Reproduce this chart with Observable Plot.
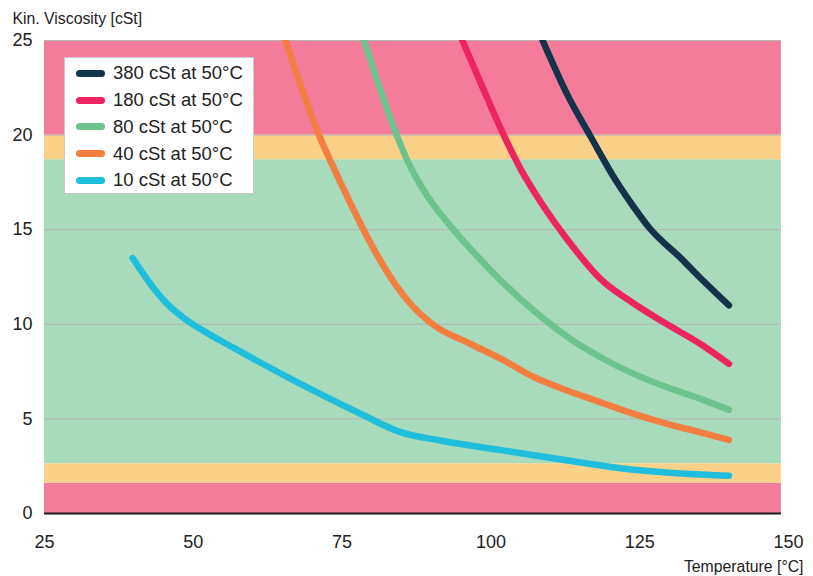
<!DOCTYPE html>
<html>
<head>
<meta charset="utf-8">
<script src="https://cdn.jsdelivr.net/npm/d3@7"></script>
<script src="https://cdn.jsdelivr.net/npm/@observablehq/plot@0.6"></script>
<style>
  body { margin: 0; background: #fff; font-family: "Liberation Sans", Arial, sans-serif; }
  #wrap { position: relative; width: 813px; height: 576px; }
  #legend { position: absolute; left: 64px; top: 57px; width: 190px; height: 137px; box-sizing: border-box;
    background: #fff; border: 1px solid #c9c9c9; padding-top: 2px; }
  .row { height: 26.75px; display: flex; align-items: center; }
  .sw { width: 29px; height: 7px; border-radius: 4px; margin-left: 11px; margin-right: 8px; }
  .lb { font-size: 18.5px; color: #222; white-space: nowrap; }
</style>
</head>
<body>
<div id="wrap"><div id="legend"></div></div>
<script>
// ---- data ----
const seriesNames = ["380 cSt at 50°C", "180 cSt at 50°C", "80 cSt at 50°C", "40 cSt at 50°C", "10 cSt at 50°C"];
const seriesColors = ["#12334a", "#ee2461", "#6dc38e", "#f47d40", "#1ebedc"];

const visc380 = [[108.7,25],[112.9,22.1],[116.8,19.9],[121.0,17.6],[124.0,16.2],[126.6,15.1],[131.9,13.5],[135.2,12.45],[140,11.0]];
const visc180 = [[95.2,25],[98.5,22.6],[102.0,20.1],[105.0,18.2],[108.5,16.4],[112.8,14.5],[118.4,12.4],[124.0,11.1],[129.6,10.0],[135.2,8.96],[140,7.91]];
const visc80  = [[78.7,25],[81.2,22.6],[83.8,20.3],[86.5,18.3],[89.5,16.7],[94.0,14.9],[98.3,13.4],[101.7,12.3],[107.3,10.7],[112.8,9.35],[118.4,8.26],[124.0,7.38],[129.6,6.67],[135.2,6.06],[140,5.48]];
const visc40  = [[65.5,25],[68.3,22.4],[71.1,20.0],[73.1,18.6],[76.4,16.4],[78.6,15.0],[82.3,12.9],[85.9,11.3],[90.2,10.0],[96.6,8.96],[101.7,8.17],[107.3,7.2],[112.8,6.5],[118.4,5.88],[124.0,5.27],[129.6,4.74],[135.2,4.29],[140,3.89]];
const visc10  = [[39.8,13.5],[42.8,12.13],[45.6,11.08],[49.0,10.2],[51.2,9.75],[56.8,8.75],[68.0,6.85],[78.1,5.27],[84.8,4.3],[91.5,3.86],[101.7,3.35],[112.9,2.8],[124.0,2.31],[132.0,2.12],[140,2.0]];
const seriesData = [visc380, visc180, visc80, visc40, visc10];

// zone bands (viscosity limits)
const bandLow  = [0, 1.6, 2.63, 18.7, 20];
const bandHigh = [1.6, 2.63, 18.7, 20, 25];
const bandColors = ["#f57b9b", "#fbd189", "#a8dabc", "#fbd189", "#f57b9b"];
const bandXStart = 25, bandXEnd = 148.8;

const xTicks = [25, 50, 75, 100, 125, 150];
const yTicks = [0, 5, 10, 15, 20, 25];
const gridValues = [5, 10, 15, 20, 25];
const yLabel = "Kin. Viscosity [cSt]";
const xLabel = "Temperature [°C]";

// ---- build tables ----
const bands = bandLow.map((lo, i) => ({lo, hi: bandHigh[i], color: bandColors[i]}));
const lines = seriesData.flatMap((arr, i) => arr.map(([t, v]) => ({t, v, series: seriesNames[i], color: seriesColors[i]})));

const font = "'Liberation Sans', Arial, sans-serif";
const chart = Plot.plot({
  width: 813, height: 576,
  marginLeft: 44, marginRight: 25, marginTop: 40, marginBottom: 63,
  style: {fontFamily: font, fontSize: "18px", color: "#222", background: "#fff", overflow: "visible"},
  color: {type: "identity"},
  x: {domain: [25, 150], ticks: xTicks, tickSize: 0, tickPadding: 22, label: null},
  y: {domain: [0, 25], ticks: yTicks, tickSize: 0, tickPadding: 12, label: null},
  marks: [
    Plot.rect(bands, {x1: bandXStart, x2: bandXEnd, y1: "lo", y2: "hi", fill: "color"}),
    Plot.ruleY(gridValues, {x1: bandXStart, x2: bandXEnd, stroke: "#b3b3b3", strokeWidth: 1}),
    Plot.ruleY([0], {x1: bandXStart, x2: bandXEnd, stroke: "#1a1a1a", strokeWidth: 2}),
    Plot.line(lines, {x: "t", y: "v", z: "series", stroke: "color", strokeWidth: 6.5,
      strokeLinecap: "round", strokeLinejoin: "round", curve: "monotone-x", clip: true}),
    Plot.text([yLabel], {frameAnchor: "top-left", dx: -32, dy: -22, textAnchor: "start", lineAnchor: "middle",
      fontSize: 15.8, fill: "#222"}),
    Plot.text([xLabel], {frameAnchor: "bottom-right", dx: 15, dy: 53, textAnchor: "end", lineAnchor: "middle",
      fontSize: 15.8, fill: "#222"})
  ]
});
const wrap = document.getElementById("wrap");
wrap.insertBefore(chart, wrap.firstChild);

const legend = document.getElementById("legend");
seriesNames.forEach((name, i) => {
  const row = document.createElement("div");
  row.className = "row";
  const sw = document.createElement("div");
  sw.className = "sw";
  sw.style.background = seriesColors[i];
  const lb = document.createElement("span");
  lb.className = "lb";
  lb.textContent = name;
  row.appendChild(sw); row.appendChild(lb);
  legend.appendChild(row);
});
</script>
</body>
</html>
